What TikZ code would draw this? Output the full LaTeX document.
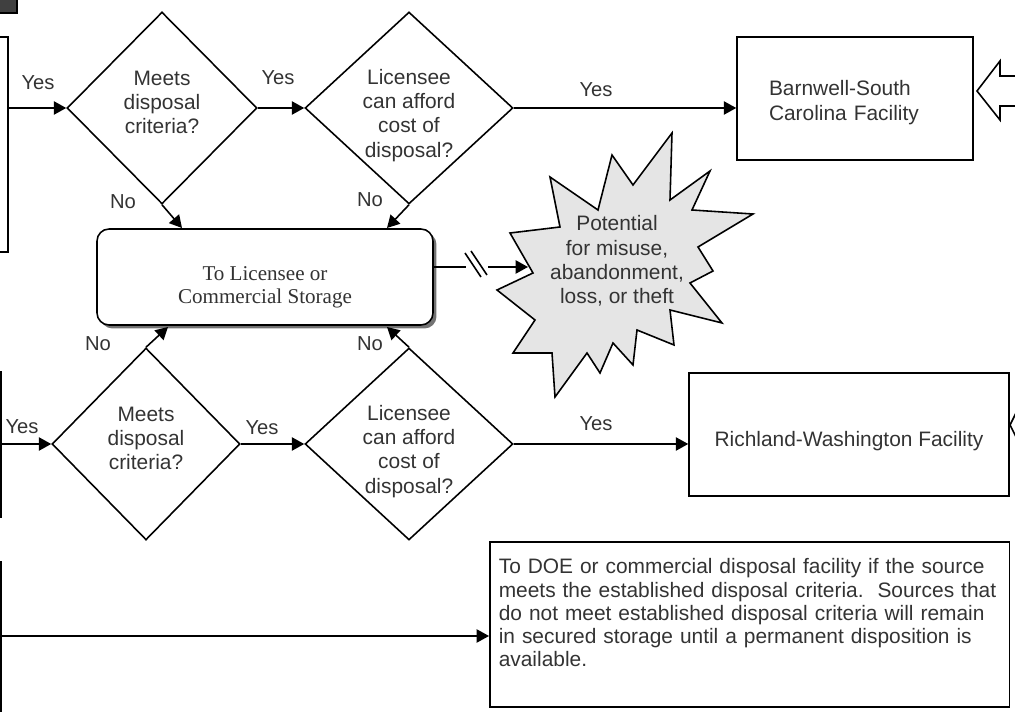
\documentclass[tikz,border=0pt]{standalone}
\usepackage{fontspec}
\setmainfont{Liberation Sans}
\newfontfamily\storefont{Liberation Serif}
\usepackage{tikz}
\usetikzlibrary{arrows.meta}
\usetikzlibrary{shapes.geometric}
\usetikzlibrary{shadows}
\usetikzlibrary{calc}

\tikzset{
  ln/.style={line width=0.9pt, draw=black},
  arr/.style={ln, -{Triangle[length=7pt,width=7.5pt]}},
  srcbox/.style={draw, line width=1pt, minimum width=2cm, anchor=east},
  decide/.style={draw, diamond, line width=0.9pt, inner sep=0pt, minimum height=3.84cm, align=center, text=black!80, font=\fontsize{11.9}{13.8}\selectfont},
  site/.style={draw, line width=0.9pt, minimum height=2.46cm, text=black!80, font=\fontsize{11.9}{13.8}\selectfont},
  lbl/.style={text=black!80, font=\fontsize{11.5}{13}\selectfont, inner sep=0pt},
}

\begin{document}
\begin{tikzpicture}[x=0.02cm, y=-0.02cm]
\useasboundingbox (0,0) rectangle (1015,712);
\clip (0,0) rectangle (1015,712);

% corner tab
\filldraw[fill=black!75, draw=black, line width=0.6pt] (-5,-5) rectangle (17,13);

% sources, cut off at the left edge
\node[srcbox, minimum height=4.3cm] (src1) at (9,144.5) {};
\node[srcbox, minimum height=2.9cm] (src2) at (1.5,444.5) {};
\node[srcbox, minimum height=3.6cm] (src3) at (1.5,652) {};

% decisions
\node[decide, minimum width=3.8cm, text height=29.5pt] (d1) at (162,108) {Meets\\disposal\\criteria?};
\node[decide, minimum width=4.16cm, text height=58.5pt, inner ysep=-0.25cm] (d2) at (409,108) {Licensee\\can afford\\cost of\\disposal?};
\node[decide, minimum width=3.76cm, text height=29.5pt] (d3) at (146,444) {Meets\\disposal\\criteria?};
\node[decide, minimum width=4.16cm, text height=58.5pt, inner ysep=-0.25cm] (d4) at (409,444) {Licensee\\can afford\\cost of\\disposal?};

% sites
\node[site, text width=3.44cm, inner xsep=0.64cm, align=left, text height=13.2pt] (barn) at (855,98.5) {Barnwell-South\\Carolina Facility};
\node[site, minimum width=6.4cm, text height=16.5pt] (rich) at (849,434.5) {Richland-Washington Facility};
\node[site, anchor=north west, minimum height=3.3cm, text width=10.04cm, inner xsep=0.18cm, align=left, font=\fontsize{11.9}{13.2}\selectfont] (dump) at (489,541) {To DOE or commercial disposal facility if the source\\meets the established disposal criteria.\ \ Sources that\\do not meet established disposal criteria will remain\\in secured storage until a permanent disposition is\\available.\\\mbox{}};

% storage
\node[draw, rounded corners=0.24cm, line width=0.9pt, fill=white, minimum width=6.72cm, minimum height=1.92cm,
  drop shadow={shadow xshift=0.07cm, shadow yshift=-0.07cm, fill=black!55, opacity=1},
  label={[text=black!80, font=\storefont\fontsize{12}{13.3}\selectfont, align=center, yshift=-0.2cm]center:To Licensee or\\Commercial Storage}] (store) at (265,277) {};

% starburst
\filldraw[fill=gray!20, draw=black, line width=0.9pt] (672,133) -- (670,200) -- (710,171) -- (692,210) -- (753,214) -- (698,247)
  -- (713,271) -- (690,283) -- (722,323) -- (670,310) -- (674,345) -- (637,330) -- (633,365) -- (613,343)
  -- (600,373) -- (587,353) -- (555,397) -- (552,353) -- (513,353) -- (535,320) -- (497,290) -- (533,273)
  -- (510,233) -- (560,227) -- (550,177) -- (598,210) -- (612,155) -- (633,185) -- cycle;
\node[text=black!80, font=\fontsize{11.9}{13.8}\selectfont, align=center, inner sep=0pt] (risk) at (617,261) {Potential\\for misuse,\\abandonment,\\loss, or theft};

% block arrows at the right edge
\draw[ln, fill=white] (1030,76) -- (1000,76) -- (1000,61) -- (977,91) -- (1000,120) -- (1000,106) -- (1030,106);
\draw[ln] (1017,411) -- (1010,425) -- (1017,439);

% connectors
\coordinate (s1) at (182,228);
\coordinate (s2) at (387,228);
\coordinate (s3) at (168,327);
\coordinate (s4) at (387,327);
\coordinate (cut1) at (466,267);
\coordinate (cut2) at (488,267);
\coordinate (hit) at (528,267);

\draw[arr] (src1.east |- d1.west) -- (d1.west);
\draw[arr] (d1.east) -- (d2.west);
\draw[arr] (d2.east) -- (d2.east -| barn.west);
\draw[arr] (d1.south) -- (s1);
\draw[arr] (d2.south) -- (s2);
\draw[arr] (src2.east |- d3.west) -- (d3.west);
\draw[arr] (d3.east) -- (d4.west);
\draw[arr] (d4.east) -- (d4.east -| rich.west);
\draw[arr] (d3.north) -- (s3);
\draw[arr] (d4.north) -- (s4);
\draw[arr] (src3.east |- 0,636) -- (dump.west |- 0,636);

\draw[ln] (store.east |- cut1) -- (cut1);
\draw[ln] (465,253) -- (481,277);
\draw[ln] (471,251) -- (487,275);
\draw[arr] (cut2) -- (hit);

% labels
\node[lbl] (y1) at (38,83) {Yes};
\node[lbl] (y2) at (278,78) {Yes};
\node[lbl] (y3) at (596,90) {Yes};
\node[lbl] (y4) at (22,427) {Yes};
\node[lbl] (y5) at (262,428) {Yes};
\node[lbl] (y6) at (596,424) {Yes};
\node[lbl] (n1) at (123,202) {No};
\node[lbl] (n2) at (370,200) {No};
\node[lbl] (n3) at (98,344) {No};
\node[lbl] (n4) at (370,344) {No};
\end{tikzpicture}
\end{document}
